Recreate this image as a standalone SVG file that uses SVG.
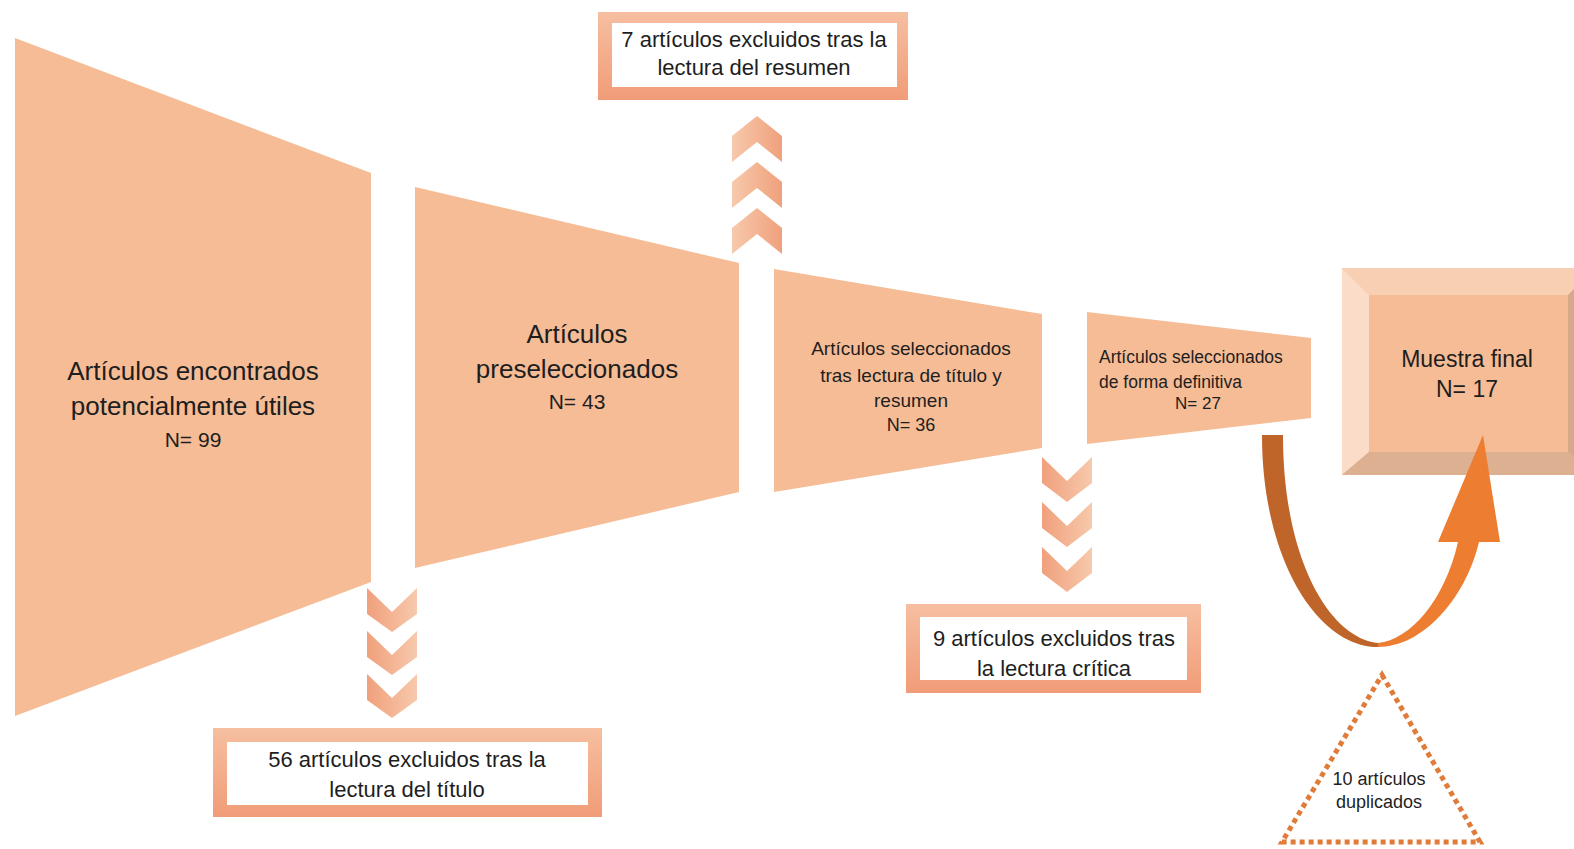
<svg xmlns="http://www.w3.org/2000/svg" width="1574" height="849" viewBox="0 0 1574 849">
<defs>
<style>
.trap{fill:#F5BC96;}
.t{font-family:"Liberation Sans",Arial,sans-serif;fill:#1E1E1E;text-anchor:middle;}
.chev{fill:url(#chevG);}
.chevd{fill:url(#chevD);}
.boxb{fill:url(#boxG);}
.boxi{fill:#FFFFFF;}
</style>
<linearGradient id="chevG" x1="0" y1="0" x2="1" y2="0">
<stop offset="0" stop-color="#F7C9AC"/>
<stop offset="1" stop-color="#F0A07C"/>
</linearGradient>
<linearGradient id="chevD" x1="0" y1="0" x2="1" y2="0">
<stop offset="0" stop-color="#F0A07C"/>
<stop offset="1" stop-color="#F7C9AC"/>
</linearGradient>
<linearGradient id="boxG" x1="0" y1="0" x2="0" y2="1">
<stop offset="0" stop-color="#F6BFA0"/>
<stop offset="1" stop-color="#F19C78"/>
</linearGradient>
</defs>
<rect width="1574" height="849" fill="#FFFFFF"/>

<g id="n1">
<polygon class="trap" points="15,38 371,173 371,582 15,716"/>
<text class="t" font-size="26" x="193" y="380">Artículos encontrados</text>
<text class="t" font-size="26" x="193" y="415">potencialmente útiles</text>
<text class="t" font-size="21" x="193" y="447">N= 99</text>
</g>
<g id="n2">
<polygon class="trap" points="415,187 739,263 739,492 415,568"/>
<text class="t" font-size="26" x="577" y="343">Artículos</text>
<text class="t" font-size="26" x="577" y="378">preseleccionados</text>
<text class="t" font-size="21" x="577" y="409">N= 43</text>
</g>
<g id="n3">
<polygon class="trap" points="774,269 1042,314 1042,448 774,492"/>
<text class="t" font-size="19" x="911" y="355">Artículos seleccionados</text>
<text class="t" font-size="19" x="911" y="382">tras lectura de título y</text>
<text class="t" font-size="19" x="911" y="407">resumen</text>
<text class="t" font-size="18" x="911" y="431">N= 36</text>
</g>
<g id="n4">
<polygon class="trap" points="1087,312 1311,338 1311,418 1087,444"/>
<text class="t" font-size="17.5" x="1099" y="363" style="text-anchor:start">Artículos seleccionados</text>
<text class="t" font-size="17.5" x="1099" y="388" style="text-anchor:start">de forma definitiva</text>
<text class="t" font-size="17" x="1198" y="409">N= 27</text>
</g>
<g id="n5">
<rect x="1342" y="268" width="253" height="207" fill="#F5BC96"/>
<polygon points="1342,268 1595,268 1568,295 1369,295" fill="#F8CFB3"/>
<polygon points="1342,268 1369,295 1369,452 1342,475" fill="#FADCC8"/>
<polygon points="1342,475 1369,452 1568,452 1595,475" fill="#DEB092"/>
<polygon points="1595,268 1568,295 1568,452 1595,475" fill="#D8A88A"/>
<text class="t" font-size="23" x="1467" y="367">Muestra final</text>
<text class="t" font-size="23" x="1467" y="397">N= 17</text>
</g>
<g id="b1">
<rect class="boxb" x="598" y="12" width="310" height="88"/>
<rect class="boxi" x="612" y="23" width="285" height="64"/>
<text class="t" font-size="22" x="754" y="47">7 artículos excluidos tras la</text>
<text class="t" font-size="22" x="754" y="75">lectura del resumen</text>
</g>
<g id="b2">
<rect class="boxb" x="213" y="728" width="389" height="89"/>
<rect class="boxi" x="227" y="742" width="361" height="63"/>
<text class="t" font-size="22" x="407" y="767">56 artículos excluidos tras la</text>
<text class="t" font-size="22" x="407" y="797">lectura del título</text>
</g>
<g id="b3">
<rect class="boxb" x="906" y="604" width="295" height="89"/>
<rect class="boxi" x="920" y="617" width="267" height="63"/>
<text class="t" font-size="22" x="1054" y="646">9 artículos excluidos tras</text>
<text class="t" font-size="22" x="1054" y="676">la lectura crítica</text>
</g>
<g id="n6">
<polygon points="1382,675 1480,842 1282,842" fill="none" stroke="#E07B39" stroke-width="5" stroke-dasharray="5 4"/>
<text class="t" font-size="18" x="1379" y="785">10 artículos</text>
<text class="t" font-size="18" x="1379" y="808">duplicados</text>
</g>

<g id="connectors">
<g id="chev-up">
<polygon class="chev" points="757,116 782,136 782,162 757,142 732,162 732,136"/>
<polygon class="chev" points="757,162 782,182 782,208 757,188 732,208 732,182"/>
<polygon class="chev" points="757,208 782,228 782,254 757,234 732,254 732,228"/>
</g>
<g id="chev-down1">
<polygon class="chevd" points="367,588 392,612 417,588 417,614 392,632 367,614"/>
<polygon class="chevd" points="367,631 392,655 417,631 417,657 392,675 367,657"/>
<polygon class="chevd" points="367,674 392,698 417,674 417,700 392,718 367,700"/>
</g>
<g id="chev-down2">
<polygon class="chevd" points="1042,457 1067,481 1092,457 1092,483 1067,502 1042,483"/>
<polygon class="chevd" points="1042,502 1067,526 1092,502 1092,528 1067,547 1042,528"/>
<polygon class="chevd" points="1042,547 1067,571 1092,547 1092,573 1067,592 1042,573"/>
</g>
<g id="curved-arrow">
<path d="M1262,435 C1262,560 1318,647 1378,647 L1378,643 C1330,638 1283,560 1283,435 Z" fill="#C0652A"/>
<path d="M1378,647 C1422,647 1465,600 1479,542 L1500,542 L1483,435 L1438,542 L1458,542 C1445,600 1410,640 1378,643 Z" fill="#ED7D31"/>
</g>
</g>
</svg>
